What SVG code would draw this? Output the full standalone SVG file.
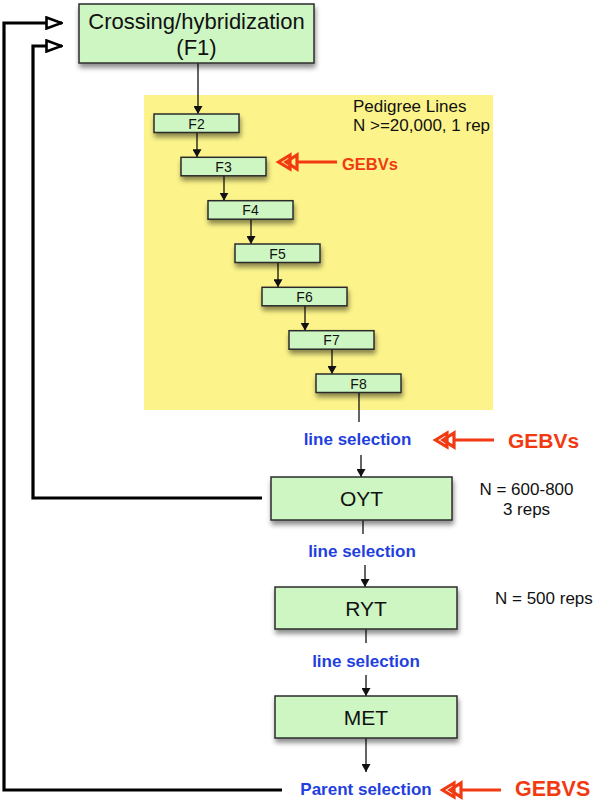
<svg xmlns="http://www.w3.org/2000/svg" width="594" height="800" viewBox="0 0 594 800">
<style>
.box{fill:#cdf6c2;stroke:#2b2b2b;stroke-width:1.5;filter:url(#sh)}
.bt{font-family:"Liberation Sans",Arial,sans-serif;fill:#111;text-anchor:middle}
.note{font-family:"Liberation Sans",Arial,sans-serif;font-size:17px;fill:#111}
.sel{font-family:"Liberation Sans",Arial,sans-serif;font-size:17px;font-weight:bold;fill:#1f3fde;text-anchor:middle}
.geb{font-family:"Liberation Sans",Arial,sans-serif;font-weight:bold;fill:#f23a12}
.thin{fill:none;stroke:#111;stroke-width:1.3}
.thinA{fill:none;stroke:#111;stroke-width:1.3;marker-end:url(#ah)}
.fb{fill:none;stroke:#000;stroke-width:3.2;marker-end:url(#open)}
.red{fill:none;stroke:#f23a12;stroke-width:3.2}
</style>
<defs>
<filter id="sh" x="-10%" y="-20%" width="125%" height="170%">
<feDropShadow dx="1" dy="4" stdDeviation="2.5" flood-color="#000" flood-opacity="0.45"/>
</filter>
<marker id="ah" viewBox="0 0 8 9" refX="8" refY="4.5" markerWidth="8" markerHeight="9" markerUnits="userSpaceOnUse" orient="auto">
<path d="M0,0 L8,4.5 L0,9 Z" fill="#111"/>
</marker>
<marker id="open" viewBox="0 0 18 14" refX="17" refY="7" markerWidth="18" markerHeight="14" markerUnits="userSpaceOnUse" orient="auto">
<path d="M1.5,1.5 L16.5,7 L1.5,12.5 Z" fill="#fff" stroke="#000" stroke-width="2.6" stroke-linejoin="miter"/>
</marker>
<g id="dbl">
<path class="red" d="M20,0 H60"/>
<path class="red" d="M1.5,0 L13,-7 L13,7 Z"/>
<path class="red" d="M9,0 L20,-7 L20,7 Z"/>
</g>
</defs>
<rect id="pedigree-bg" x="144" y="95" width="349" height="315" fill="#fcf48a"/>
<text class="note" x="353" y="112">Pedigree Lines</text>
<text class="note" x="353" y="131">N &gt;=20,000, 1 rep</text>
<g id="connectors">
<path class="fb" d="M282,790 H4 V23 H62"/>
<path class="fb" d="M262,498 H33 V46 H62"/>
<path class="thinA" d="M198,63 V114"/>
<path class="thinA" d="M197,132.5 V157.3"/>
<path class="thinA" d="M224,175.8 V200.7"/>
<path class="thinA" d="M251,219.2 V244"/>
<path class="thinA" d="M278,262.5 V287.3"/>
<path class="thinA" d="M305,305.8 V330.7"/>
<path class="thinA" d="M332,349.2 V374"/>
<path class="thin" d="M359,392.5 V422"/>
<path class="thinA" d="M361,455 V477"/>
<path class="thin" d="M363,520 V534"/>
<path class="thinA" d="M365,565 V587"/>
<path class="thin" d="M366,629 V643"/>
<path class="thinA" d="M366,675 V696"/>
<path class="thinA" d="M366,738 V772"/>
<use href="#dbl" transform="translate(277,162)"/>
<use href="#dbl" transform="translate(434,440)"/>
<use href="#dbl" transform="translate(441,790)"/>
</g>
<g id="n-f1">
<rect class="box" x="79" y="4" width="235" height="59"/>
<text class="bt" x="196.5" y="28.5" font-size="22">Crossing/hybridization</text>
<text class="bt" x="196.5" y="55" font-size="22">(F1)</text>
</g>
<g id="n-f2"><rect class="box" x="154" y="114" width="85" height="18.5"/><text class="bt" x="196.5" y="128.5" font-size="14">F2</text></g>
<g id="n-f3"><rect class="box" x="181" y="157.3" width="85" height="18.5"/><text class="bt" x="223.5" y="171.8" font-size="14">F3</text></g>
<g id="n-f4"><rect class="box" x="208" y="200.7" width="85" height="18.5"/><text class="bt" x="250.5" y="215.2" font-size="14">F4</text></g>
<g id="n-f5"><rect class="box" x="235" y="244" width="85" height="18.5"/><text class="bt" x="277.5" y="258.5" font-size="14">F5</text></g>
<g id="n-f6"><rect class="box" x="262" y="287.3" width="85" height="18.5"/><text class="bt" x="304.5" y="301.8" font-size="14">F6</text></g>
<g id="n-f7"><rect class="box" x="289" y="330.7" width="85" height="18.5"/><text class="bt" x="331.5" y="345.2" font-size="14">F7</text></g>
<g id="n-f8"><rect class="box" x="316" y="374" width="85" height="18.5"/><text class="bt" x="358.5" y="388.5" font-size="14">F8</text></g>
<g id="n-oyt"><rect class="box" x="271" y="477" width="181" height="43"/><text class="bt" x="361.5" y="506" font-size="21">OYT</text></g>
<g id="n-ryt"><rect class="box" x="275" y="587" width="182" height="42"/><text class="bt" x="366" y="615.5" font-size="21">RYT</text></g>
<g id="n-met"><rect class="box" x="275" y="696" width="182" height="42"/><text class="bt" x="366" y="724.5" font-size="21">MET</text></g>
<text class="sel" x="357.5" y="445">line selection</text>
<text class="sel" x="362" y="557">line selection</text>
<text class="sel" x="366" y="667">line selection</text>
<text class="sel" x="366" y="795">Parent selection</text>
<text class="geb" x="508" y="447.5" font-size="21">GEBVs</text>
<text class="geb" x="342" y="169.5" font-size="16.5">GEBVs</text>
<text class="geb" x="515" y="796" font-size="21.5">GEBVS</text>
<text class="note" x="526.5" y="494.5" text-anchor="middle">N = 600-800</text>
<text class="note" x="526.5" y="514.5" text-anchor="middle">3 reps</text>
<text class="note" x="495" y="604">N = 500 reps</text>
</svg>
